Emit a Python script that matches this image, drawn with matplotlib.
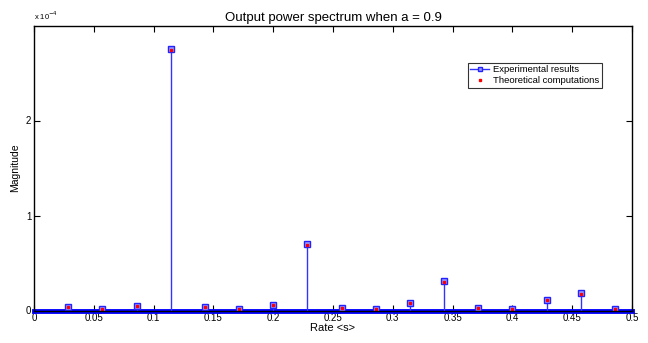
import matplotlib
matplotlib.use("Agg")
import matplotlib.pyplot as plt
import numpy as np

plt.rcParams['font.family'] = ['Liberation Sans', 'DejaVu Sans']

# Rate values (k/35) and magnitudes (x 1e-4)
rate = [1/35, 2/35, 3/35, 4/35, 5/35, 6/35, 7/35, 8/35, 9/35, 10/35,
        11/35, 12/35, 13/35, 14/35, 15/35, 16/35, 17/35]
experimental = [0.037, 0.013, 0.05, 2.75, 0.034, 0.013, 0.063, 0.70, 0.026, 0.013,
                0.079, 0.31, 0.026, 0.02, 0.11, 0.18, 0.02]
theoretical = [0.035, 0.012, 0.048, 2.74, 0.032, 0.012, 0.060, 0.69, 0.025, 0.012,
               0.077, 0.30, 0.025, 0.019, 0.108, 0.175, 0.019]
scale = 1e-4
xticks = [0, 0.05, 0.1, 0.15, 0.2, 0.25, 0.3, 0.35, 0.4, 0.45, 0.5]
yticks = [0, 1, 2]

fig = plt.figure(figsize=(6.48, 3.43), dpi=100)
ax = fig.add_axes([34/648, (343-310.5)/343, (632-34)/648, (310.5-25.5)/343])

exp = np.array(experimental) * scale
th = np.array(theoretical) * scale

ax.axhline(0, color='#0000ff', lw=3.5, zorder=2, clip_on=False)
ax.vlines(rate, 0, exp, color='#3333ff', lw=1.0, zorder=3)
ax.plot(rate, exp, ls='none', marker='s', ms=4.0, mfc='#9999ff',
        mec='#2222ff', mew=1.0, zorder=4)
ax.plot(rate, th, ls='none', marker='s', ms=2.0, mfc='red', mec='red', zorder=5)

# legend handles
h1, = ax.plot([], [], color='#3333ff', lw=1.0, marker='s', ms=3.5, mfc='#9999ff', mec='#2222ff')
h2, = ax.plot([], [], ls='none', marker='s', ms=1.8, mfc='red', mec='red')
leg = ax.legend([h1, h2], ['Experimental results', 'Theoretical computations'],
                loc='upper left', bbox_to_anchor=(0.725, 0.87), fontsize=6.8,
                frameon=True, fancybox=False, edgecolor='black', handlelength=2.0,
                borderpad=0.3, labelspacing=0.2, handletextpad=0.4, borderaxespad=0)
leg.get_frame().set_linewidth(0.8)

ax.set_xlim(0, 0.5)
ax.set_ylim(0, 3e-4)
ax.set_xticks(xticks)
ax.set_xticklabels([('%g' % t) for t in xticks])
ax.set_yticks([t * scale for t in yticks])
ax.set_yticklabels([str(t) for t in yticks])
ax.tick_params(direction='in', top=True, right=True, labelsize=7, length=4, width=0.8, pad=2)
for s in ax.spines.values():
    s.set_linewidth(1.0)
    s.set_zorder(6)

ax.text(0, 1.012, r'x 10$^{-4}$', transform=ax.transAxes, fontsize=5.5, ha='left', va='bottom')
ax.set_title('Output power spectrum when a = 0.9', fontsize=9.5, pad=3)
ax.set_xlabel('Rate <s>', fontsize=8, labelpad=0)
ax.set_ylabel('Magnitude', fontsize=7.5, labelpad=4)

fig.savefig('out.png', dpi=100)
